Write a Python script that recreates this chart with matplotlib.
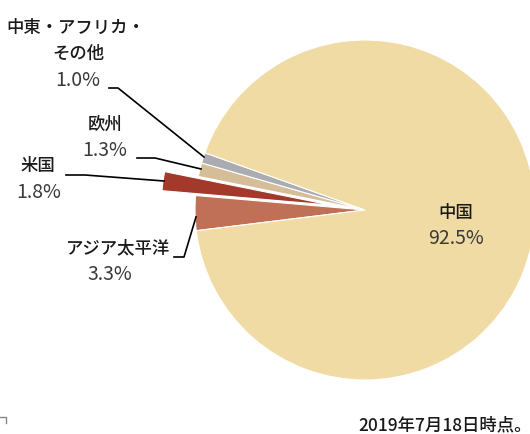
import matplotlib
matplotlib.use("Agg")
import matplotlib.pyplot as plt

plt.rcParams['font.family'] = ['Noto Sans CJK JP', 'DejaVu Sans']

# data (clockwise from the lower-left edge of the China slice)
regions = ["アジア太平洋", "米国", "欧州", "中東・アフリカ・\nその他", "中国"]
shares = [3.3, 1.8, 1.3, 1.0, 92.5]
colors = ["#C07057", "#A3392A", "#D5BD97", "#ABACB1", "#F0DBA4"]
explode = [0, 0.2, 0, 0, 0]
footnote = "2019年7月18日時点。"

W, H = 530, 434
R = 170
fig = plt.figure(figsize=(W / 100, H / 100), dpi=100)
ax = fig.add_axes([0, 0, 1, 1])


def py(y):
    # pixel row (from top) -> data y
    return H - y


# pie's explode is in data units, so scale by the radius
ax.pie(shares, colors=colors, explode=[e * R for e in explode], startangle=187,
       counterclock=False, center=(365, py(210)), radius=R,
       wedgeprops=dict(edgecolor="white", linewidth=0.8))
ax.set_xlim(0, W)
ax.set_ylim(0, H)
ax.set_aspect("equal")
ax.axis("off")

bold = dict(fontsize=12.5, fontweight="medium", color="#1a1a1a")
pct = dict(fontsize=14, fontweight="normal", color="#3a3a3a")

# labels with leader lines
ax.text(76, py(28), "中東・アフリカ・", ha="center", va="center", **bold)
ax.text(78, py(54), "その他", ha="center", va="center", **bold)
ax.text(78, py(80), f"{shares[3]:.1f}%", ha="center", va="center", **pct)
ax.plot([109, 118, 204], [py(88), py(88), py(157)], color="black", lw=1.2)

ax.text(105, py(125), "欧州", ha="center", va="center", **bold)
ax.text(105, py(150), f"{shares[2]:.1f}%", ha="center", va="center", **pct)
ax.plot([137, 155, 201], [py(158), py(158), py(169)], color="black", lw=1.2)

ax.text(38, py(166), "米国", ha="center", va="center", **bold)
ax.text(39, py(193), f"{shares[1]:.1f}%", ha="center", va="center", **pct)
ax.plot([66, 85, 164], [py(175), py(175), py(181)], color="black", lw=1.2)

ax.text(170, py(248), "アジア太平洋", ha="right", va="center", **bold)
ax.text(110, py(275), f"{shares[0]:.1f}%", ha="center", va="center", **pct)
ax.plot([174, 184, 196], [py(257), py(257), py(217)], color="black", lw=1.2)

ax.text(456, py(213), "中国", ha="center", va="center", **bold)
ax.text(456, py(239), f"{shares[4]:.1f}%", ha="center", va="center", **pct)

# footnote and small corner mark
ax.text(358, py(425), footnote, ha="left", va="center", fontsize=12.5,
        fontweight="medium", color="#1a1a1a")
ax.plot([0, 6, 6], [py(417), py(417), py(423)], color="#888888", lw=1)

fig.savefig("out.png", dpi=100)
